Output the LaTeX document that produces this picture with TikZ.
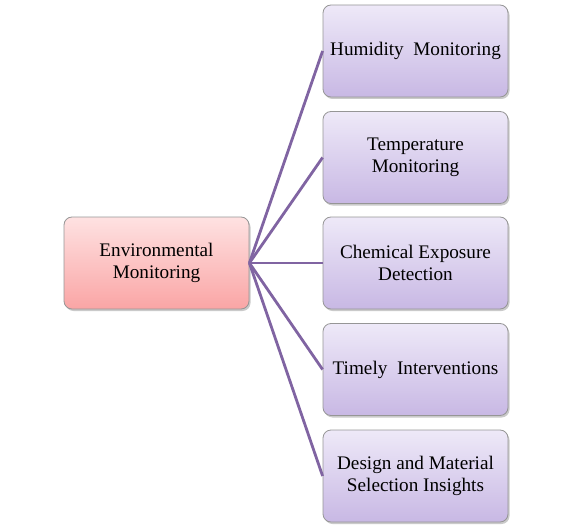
\documentclass[tikz,border=0pt]{standalone}
\usepackage{fontspec}
\setmainfont{Liberation Serif}
\usetikzlibrary{shadows}
\definecolor{linkc}{RGB}{128,100,162}
\definecolor{bordc}{RGB}{150,150,150}
\definecolor{pinktop}{RGB}{254,226,226}
\definecolor{pinkbot}{RGB}{250,165,165}
\definecolor{purptop}{RGB}{238,233,248}
\definecolor{purpbot}{RGB}{200,184,228}
\tikzset{
  boxbase/.style={draw=bordc, line width=0.8pt, rounded corners=8pt, minimum width=185pt, minimum height=92pt,
    align=center, font=\fontsize{19.2}{21.8}\selectfont, inner sep=2pt,
    drop shadow={shadow xshift=1.5pt, shadow yshift=-2pt, opacity=0.35, fill=black!60}},
  rootbox/.style={boxbase, top color=pinktop, bottom color=pinkbot},
  leafbox/.style={boxbase, top color=purptop, bottom color=purpbot},
  link/.style={draw=linkc, line width=2.8pt}
}
\begin{document}
\begin{tikzpicture}[x=1pt,y=-1pt]
\useasboundingbox (0,0) rectangle (573,532);
\node[rootbox] (root) at (156.5,263) {Environmental\\Monitoring};
\node[leafbox] (l1) at (415.5,51) {Humidity\ \ Monitoring};
\node[leafbox] (l2) at (415.5,157.5) {Temperature\\Monitoring};
\node[leafbox] (l3) at (415.5,263) {Chemical\ Exposure\\Detection};
\node[leafbox] (l4) at (415.5,369.5) {Timely\ \ Interventions};
\node[leafbox] (l5) at (415.5,476) {Design and Material\\Selection Insights};
\foreach \n in {l1,l2,l3,l4,l5}{
  \draw[link] (root.east) -- (\n.west);
}
\end{tikzpicture}
\end{document}
